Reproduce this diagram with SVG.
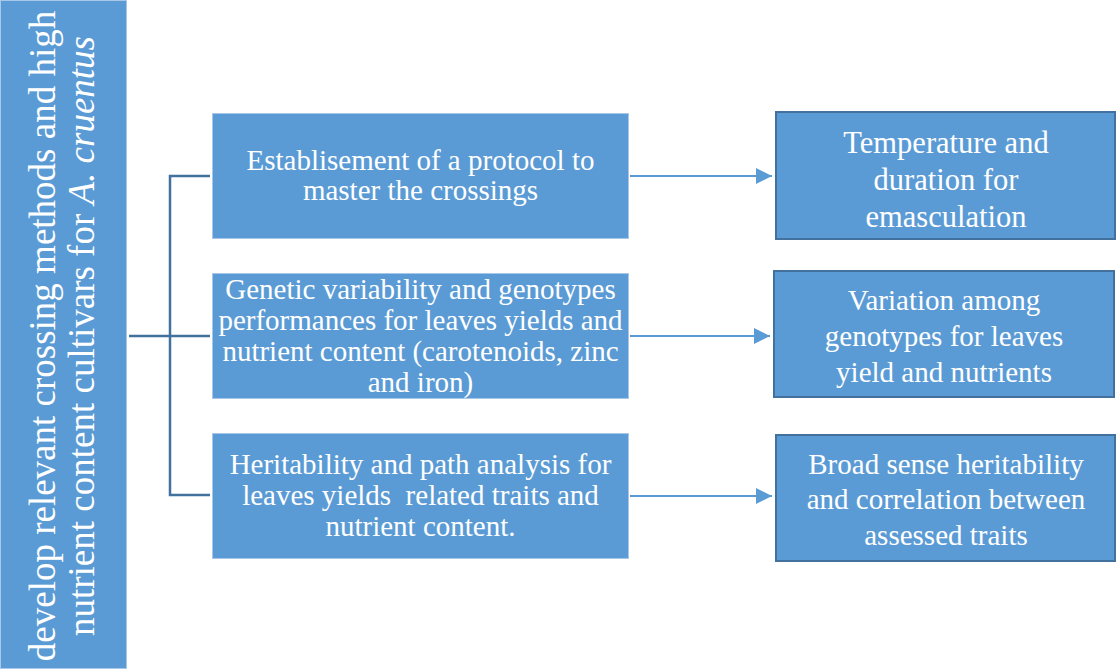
<svg xmlns="http://www.w3.org/2000/svg" width="1117" height="669" viewBox="0 0 1117 669">
<defs>
<style>
.box{fill:#5b9bd5;stroke:#a9c7e8;stroke-width:1}
.rbox{fill:#5b9bd5;stroke:#41719c;stroke-width:2}
.t{font-family:"Liberation Serif","Times New Roman",serif;fill:#ffffff;text-anchor:middle}
.m{font-size:29px}
.br{fill:none;stroke:#41719c;stroke-width:2.5}
.ar{fill:none;stroke:#5b9bd5;stroke-width:2}
</style>
<marker id="ah" markerWidth="16" markerHeight="16" refX="16" refY="8" orient="auto" markerUnits="userSpaceOnUse">
<path d="M0,0 L16,8 L0,16 Z" fill="#5b9bd5"/>
</marker>
</defs>
<rect width="1117" height="669" fill="#ffffff"/>
<g id="goal">
<rect class="box" x="0.5" y="0.5" width="126" height="668"/>
<g transform="translate(0,336) rotate(-90)">
<text class="t" style="font-size:37px" x="0" y="55">develop relevant crossing methods and high</text>
<text class="t" style="font-size:37px" x="0" y="94">nutrient content cultivars for <tspan font-style="italic">A. cruentus</tspan></text>
</g>
</g>
<g id="connectors">
<path class="br" d="M129,336 H210 M210,176 H170 V495 H210"/>
<line class="ar" x1="630" y1="176" x2="772" y2="176" marker-end="url(#ah)"/>
<line class="ar" x1="630" y1="336" x2="770" y2="336" marker-end="url(#ah)"/>
<line class="ar" x1="630" y1="496" x2="772" y2="496" marker-end="url(#ah)"/>
</g>
<g id="n1">
<rect class="box" x="212.5" y="113.5" width="416" height="125"/>
<text class="t m" x="420.5" y="170">Establisement of a protocol to</text>
<text class="t m" x="420.5" y="200">master the crossings</text>
</g>
<g id="n2">
<rect class="box" x="212.5" y="273.5" width="416" height="125"/>
<text class="t m" x="420.5" y="299">Genetic variability and genotypes</text>
<text class="t m" x="420.5" y="330">performances for leaves yields and</text>
<text class="t m" x="420.5" y="361">nutrient content (carotenoids, zinc</text>
<text class="t m" x="420.5" y="392">and iron)</text>
</g>
<g id="n3">
<rect class="box" x="212.5" y="433.5" width="416" height="125"/>
<text class="t m" x="420.5" y="474">Heritability and path analysis for</text>
<text class="t m" x="420.5" y="505" xml:space="preserve">leaves yields  related traits and</text>
<text class="t m" x="420.5" y="536">nutrient content.</text>
</g>
<g id="r1">
<rect class="rbox" x="776" y="112" width="339" height="127"/>
<text class="t" style="font-size:30.5px" x="946" y="153">Temperature and</text>
<text class="t" style="font-size:30.5px" x="946" y="190">duration for</text>
<text class="t" style="font-size:30.5px" x="946" y="227">emasculation</text>
</g>
<g id="r2">
<rect class="rbox" x="774" y="271" width="340" height="126"/>
<text class="t m" x="944" y="310">Variation among</text>
<text class="t m" x="944" y="346">genotypes for leaves</text>
<text class="t m" x="944" y="382">yield and nutrients</text>
</g>
<g id="r3">
<rect class="rbox" x="776" y="435" width="339" height="126"/>
<text class="t m" x="946" y="474">Broad sense heritability</text>
<text class="t m" x="946" y="509">and correlation between</text>
<text class="t m" x="946" y="545">assessed traits</text>
</g>
</svg>
